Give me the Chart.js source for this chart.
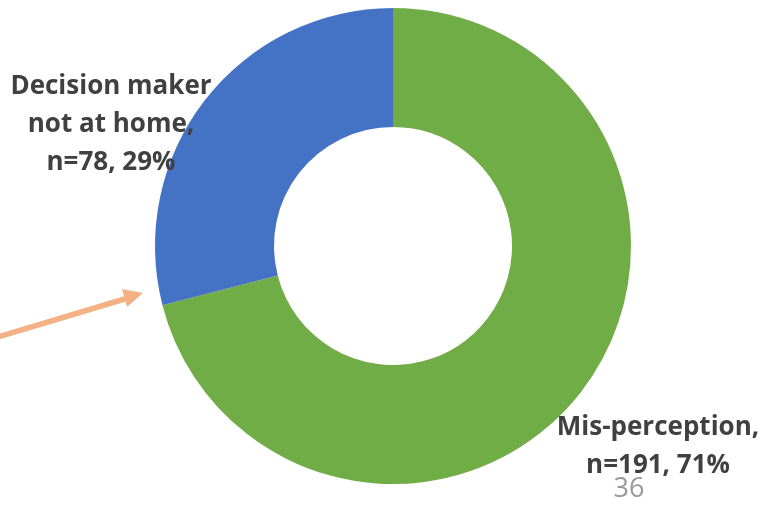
<!DOCTYPE html>
<html>
<head>
<meta charset="utf-8">
<script src="https://cdn.jsdelivr.net/npm/chart.js@4/dist/chart.umd.min.js"></script>
<style>
  html, body { margin: 0; padding: 0; background: #fff; }
  #wrap { width: 770px; height: 505px; position: relative; }
</style>
</head>
<body>
<div id="wrap"><canvas id="donut"></canvas></div>
<script>
// DATA //
var categories = ["Mis-perception", "Decision maker not at home"];
var counts = [191, 78];
var sliceColors = ["#70AD47", "#4472C4"];
var labelLines = [
    ["Mis-perception,", "n=191, 71%"],
    ["Decision maker", "not at home,", "n=78, 29%"]
];
var pageNumber = "36";

// LABELS + ARROW PLUGIN //
var annotate = {
    id: "annotate",
    afterDraw: function(chart) {
        var ctx = chart.ctx;
        ctx.save();
        ctx.fillStyle = "#404040";
        ctx.font = "bold 26px 'Open Sans', sans-serif";
        ctx.textAlign = "center";
        ctx.textBaseline = "middle";
        // label positions, one per slice
        var spots = [[658, 428, 38], [111, 87, 38]];
        for (var i = 0; i < labelLines.length; i++) {
            for (var j = 0; j < labelLines[i].length; j++) {
                ctx.fillText(labelLines[i][j], spots[i][0], spots[i][1] + j * spots[i][2]);
            }
        }
        // slide number
        ctx.fillStyle = "#9a9a9a";
        ctx.font = "27px 'Open Sans', sans-serif";
        ctx.fillText(pageNumber, 629, 489);
        // orange arrow
        ctx.strokeStyle = "#F4B183";
        ctx.fillStyle = "#F4B183";
        ctx.lineWidth = 5.5;
        ctx.beginPath();
        ctx.moveTo(-2, 337);
        ctx.lineTo(128, 298);
        ctx.stroke();
        ctx.beginPath();
        ctx.moveTo(143, 293);
        ctx.lineTo(122, 289);
        ctx.lineTo(127, 307);
        ctx.closePath();
        ctx.fill();
        ctx.restore();
    }
};

// CREATE CHART //
var donutChart = new Chart(document.getElementById("donut"), {
    type: "doughnut",
    data: {
        labels: categories,
        datasets: [{
            data: counts,
            backgroundColor: sliceColors,
            borderWidth: 0
        }]
    },
    options: {
        responsive: true,
        maintainAspectRatio: false,
        animation: false,
        cutout: "50%",
        layout: { padding: { top: 8, bottom: 21, left: 155, right: 139 } },
        plugins: {
            legend: { display: false },
            tooltip: { enabled: false }
        }
    },
    plugins: [annotate]
});
</script>
</body>
</html>
